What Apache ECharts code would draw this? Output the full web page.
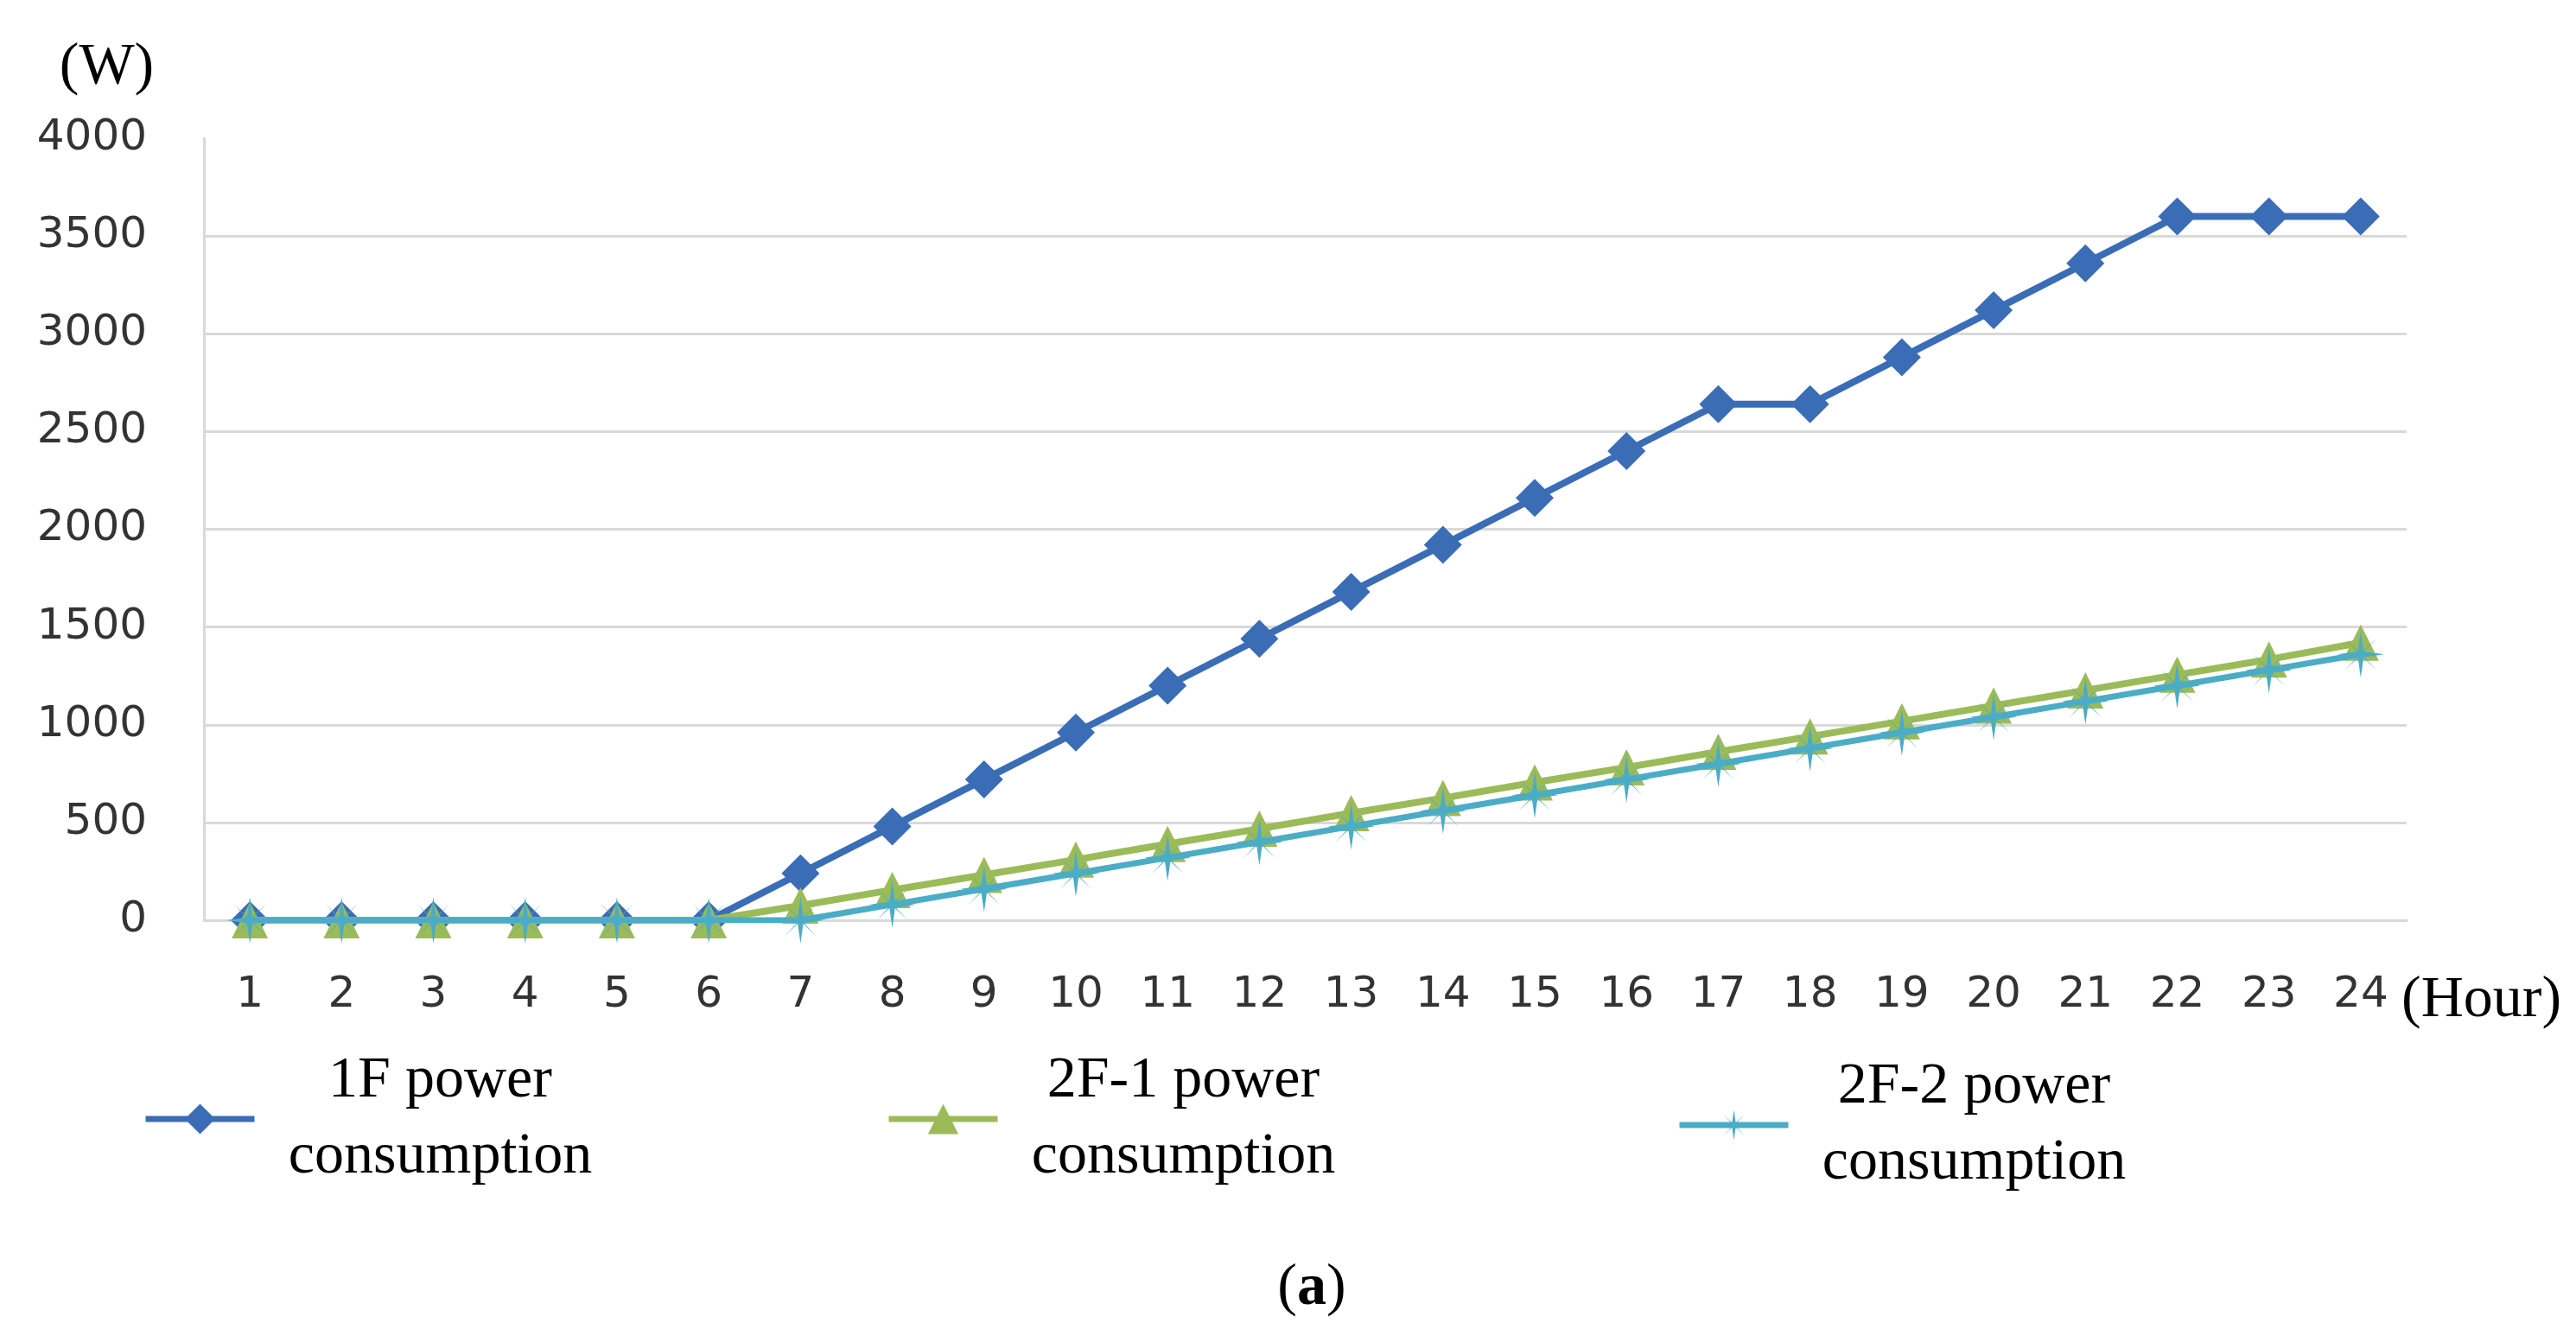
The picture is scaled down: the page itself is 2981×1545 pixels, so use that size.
<!DOCTYPE html>
<html>
<head>
<meta charset="utf-8">
<script src="https://cdn.jsdelivr.net/npm/echarts@6/dist/echarts.min.js"></script>
<style>
  html, body { margin: 0; padding: 0; background: #fff; }
  #chart { width: 2981px; height: 1545px; }
</style>
</head>
<body>
<div id="chart"></div>
<script>
const hours = ['1','2','3','4','5','6','7','8','9','10','11','12','13','14','15','16','17','18','19','20','21','22','23','24'];
const yTicks = [0, 500, 1000, 1500, 2000, 2500, 3000, 3500, 4000];
const seriesNames = ['1F power consumption', '2F-1 power consumption', '2F-2 power consumption'];
const f1 = [0, 0, 0, 0, 0, 0, 240, 480, 720, 960, 1200, 1440, 1680, 1920, 2160, 2400, 2640, 2640, 2880, 3120, 3360, 3600, 3600, 3600];
const f2a = [0, 0, 0, 0, 0, 0, 75, 155, 232, 310, 390, 468, 548, 625, 705, 782, 862, 940, 1018, 1098, 1176, 1256, 1334, 1420];
const f2b = [0, 0, 0, 0, 0, 0, 0, 80, 160, 240, 320, 400, 480, 560, 640, 720, 800, 880, 960, 1040, 1120, 1200, 1280, 1360];

const serif = '"Liberation Serif", "DejaVu Serif", serif';
const sans = '"DejaVu Sans", sans-serif';
const starPath = 'path://M0,-10 L1.2,-1.5 L7,-7 L1.5,-1.2 L10,0 L1.5,1.2 L7,7 L1.2,1.5 L0,10 L-1.2,1.5 L-7,7 L-1.5,1.2 L-10,0 L-1.5,-1.2 L-7,-7 L-1.2,-1.5 Z';

const colors = ['#3A6DB5', '#9BBB59', '#4BACC6'];
const symbols = ['diamond', 'triangle', starPath];
const symSizes = [44, 42, 54];
const widths = [8, 8, 7];
const datas = [f1, f2a, f2b];

const gridLineColors = yTicks.map((v, i) => i === yTicks.length - 1 ? 'rgba(0,0,0,0)' : '#d9d9d9');

const legendPos = [
  { left: 160, top: 1212 },
  { left: 1020, top: 1212 },
  { left: 1935, top: 1219 }
];

const chart = echarts.init(document.getElementById('chart'), null, { renderer: 'canvas' });
chart.setOption({
  backgroundColor: '#ffffff',
  animation: false,
  title: {
    text: '({b|a})',
    left: 1513, top: 1452,
    textAlign: 'center',
    textStyle: {
      fontFamily: serif, fontSize: 68, fontWeight: 'normal', color: '#000',
      rich: { b: { fontFamily: serif, fontSize: 68, fontWeight: 'bold', color: '#000' } }
    }
  },
  grid: { left: 236, right: 196, top: 160, bottom: 480, containLabel: false },
  xAxis: {
    type: 'category',
    data: hours,
    boundaryGap: true,
    name: '(Hour)',
    nameLocation: 'end',
    nameGap: -6,
    nameTextStyle: { fontFamily: serif, fontSize: 68, color: '#000', align: 'left', verticalAlign: 'top', lineHeight: 186 },
    axisLine: { show: true, lineStyle: { color: '#d9d9d9', width: 3 } },
    axisTick: { show: false },
    axisLabel: { fontFamily: sans, fontSize: 50, color: '#333', margin: 62 },
    splitLine: { show: false }
  },
  yAxis: {
    type: 'value',
    min: 0, max: 4000, interval: 500,
    name: '(W)',
    nameLocation: 'end',
    nameGap: 48,
    nameTextStyle: { fontFamily: serif, fontSize: 68, color: '#000', align: 'center', padding: [0, 225, 0, 0] },
    axisLine: { show: true, lineStyle: { color: '#d9d9d9', width: 3 } },
    axisTick: { show: false },
    axisLabel: { fontFamily: sans, fontSize: 50, color: '#333', margin: 66, formatter: (v) => String(v) },
    splitLine: { show: true, lineStyle: { color: gridLineColors, width: 3 } }
  },
  legend: seriesNames.map((n, i) => ({
    data: [n],
    left: legendPos[i].left,
    top: legendPos[i].top,
    itemWidth: 126,
    itemHeight: 44,
    itemGap: 10,
    selectedMode: false,
    lineStyle: { width: 7 },
    formatter: () => {
      const parts = n.split(' power ');
      return '{a|' + parts[0] + ' power}\n{a|' + 'consumption}';
    },
    textStyle: {
      rich: { a: { fontFamily: serif, fontSize: 68, color: '#000', width: 420, align: 'center', lineHeight: 88 } }
    }
  })),
  series: seriesNames.map((n, i) => ({
    name: n,
    type: 'line',
    data: datas[i],
    symbol: symbols[i],
    symbolSize: symSizes[i],
    showSymbol: true,
    lineStyle: { color: colors[i], width: widths[i] },
    itemStyle: { color: colors[i] },
    z: 2 + i
  }))
});
</script>
</body>
</html>
